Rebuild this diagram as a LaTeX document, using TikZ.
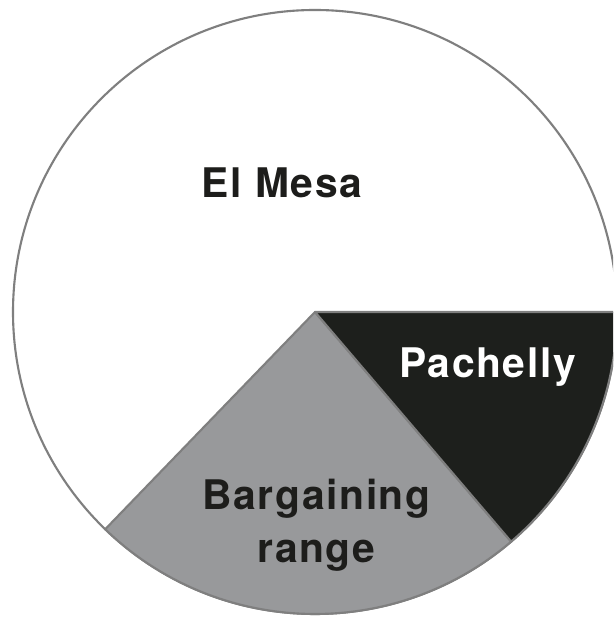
\documentclass[tikz,border=0pt]{standalone}
\usepackage{fontspec}
\usetikzlibrary{calc}
\setmainfont{TeX Gyre Heros}[LetterSpace=4]
\definecolor{slicedark}{HTML}{1D1F1C}
\definecolor{slicegrey}{HTML}{98999B}
\definecolor{rimgrey}{HTML}{7F7F7F}
\definecolor{labeldark}{HTML}{1D1D1B}
\tikzset{
  slice/.style={draw=rimgrey, line width=1.5pt, line join=round},
  piefont/.style={font=\bfseries\fontsize{29}{38}\selectfont, inner sep=0pt, align=center}
}
\begin{document}
\begin{tikzpicture}[x=0.025cm, y=0.025cm]
\useasboundingbox (0,0) rectangle (613,618);
\clip (0,0) rectangle (613,618);
\coordinate (o) at (315,306);

\fill[white] (0,0) rectangle (613,618);
\draw[slice, fill=white] (o) circle (302);
\draw[slice, fill=slicegrey] (o) -- ($(o)+(-134:302)$) arc (-134:-49.5:302) -- cycle;
\draw[slice, fill=slicedark] (o) -- ($(o)+(-49.5:302)$) arc (-49.5:0:302) -- cycle;

\node[piefont, text=labeldark, anchor=base] (mesa) at (282,420) {El Mesa};
\node[piefont, text=white, anchor=base] (pach) at (487.5,240) {Pachelly};
\node[piefont, text=labeldark, anchor=base] (barg) at (316.5,55) {Bargaining\\ range};
\end{tikzpicture}
\end{document}
